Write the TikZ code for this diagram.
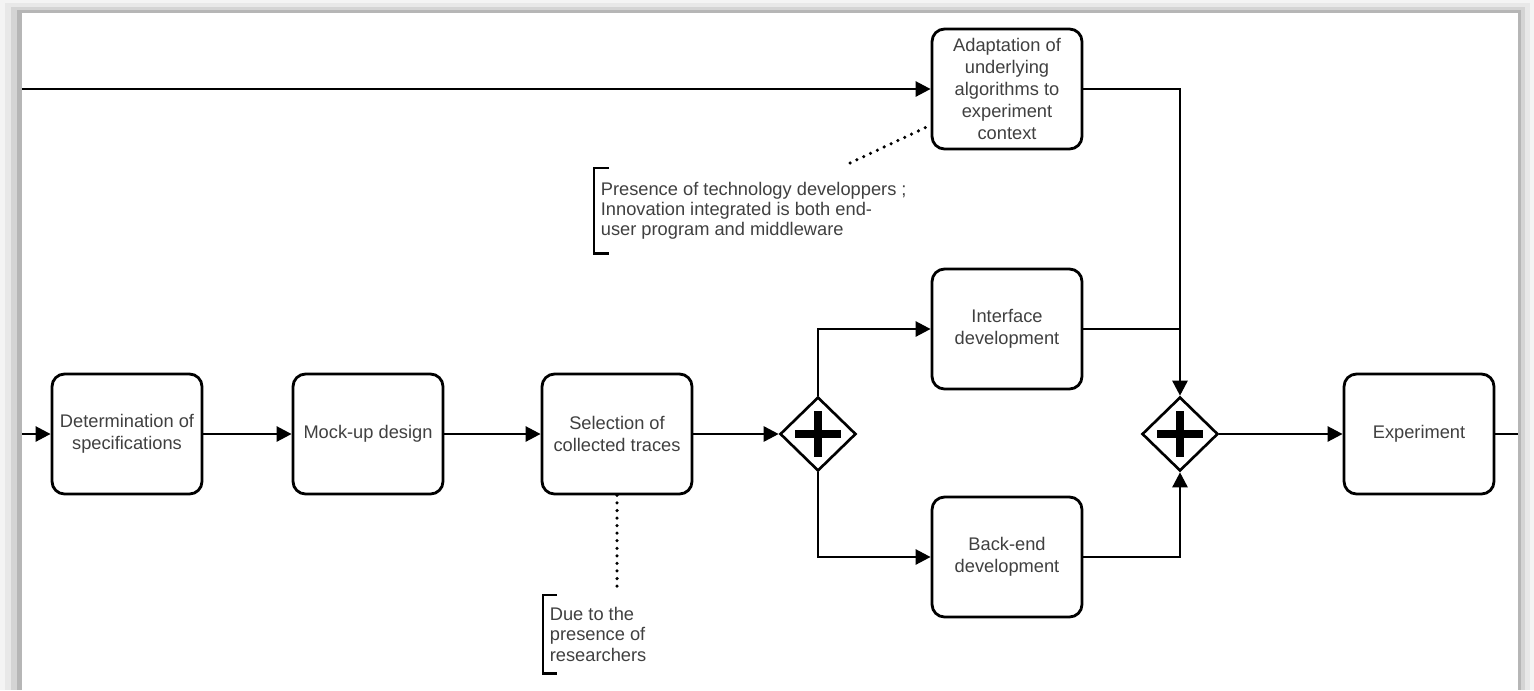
\documentclass[tikz,border=0pt]{standalone}
\usepackage{fontspec}
\setmainfont{Liberation Sans}
\usetikzlibrary{positioning, arrows.meta, shapes.geometric, calc}
\definecolor{flowink}{RGB}{0, 0, 0}
\definecolor{flowtext}{RGB}{64, 64, 64}
\definecolor{shadeA}{RGB}{244, 244, 244}
\definecolor{shadeB}{RGB}{232, 232, 232}
\definecolor{shadeC}{RGB}{212, 212, 212}
\definecolor{shadeD}{RGB}{182, 182, 182}
\tikzset{
  task/.style={
    draw=flowink,
    line width=1.6pt,
    rounded corners=0.25cm,
    fill=white,
    minimum width=3cm,
    minimum height=2.4cm,
    inner sep=2pt,
    align=center,
    text=flowtext,
    font=\fontsize{10.4}{12.4}\selectfont
  },
  gateway/.style={
    diamond,
    aspect=1,
    draw=flowink,
    line width=1.5pt,
    fill=white,
    inner sep=0pt,
    minimum width=1.52cm,
    minimum height=1.48cm,
    path picture={
      \fill[flowink] ([xshift=-0.46cm,yshift=-0.08cm]path picture bounding box.center)
        rectangle ([xshift=0.46cm,yshift=0.08cm]path picture bounding box.center);
      \fill[flowink] ([xshift=-0.08cm,yshift=-0.46cm]path picture bounding box.center)
        rectangle ([xshift=0.08cm,yshift=0.46cm]path picture bounding box.center);
    }
  },
  flow/.style={
    -{Triangle[length=3mm,width=3mm]},
    line width=1.5pt,
    draw=flowink
  },
  plainflow/.style={
    line width=1.5pt,
    draw=flowink
  },
  assoc/.style={
    line width=2pt,
    dash pattern=on 0pt off 4.3pt,
    line cap=round,
    draw=flowink
  },
  note/.style={
    anchor=north west,
    align=left,
    inner xsep=0.13cm,
    inner ysep=0pt,
    text=flowtext,
    font=\fontsize{10.4}{11.6}\selectfont
  },
  bracket/.style={
    line width=1.6pt,
    draw=flowink
  }
}

\begin{document}
\begin{tikzpicture}[x=0.02cm, y=-0.02cm]
  \useasboundingbox (0,0) rectangle (1534,690);

  % window shadow
  \fill[shadeA] (0,0) rectangle (1534,690);
  \fill[shadeB] (5,3) rectangle (1530,690);
  \fill[shadeC] (11,7) rectangle (1525,690);
  \fill[shadeD] (17,10) rectangle (1521,690);
  \fill[white] (22,13) rectangle (1518,690);

  % tasks and gateways
  \node[task] (spec) at (127,434) {Determination of\\specifications};
  \node[task] (mockup) at (368,434) {Mock-up design};
  \node[task] (traces) at (617,434) {Selection of\\collected traces};
  \node[gateway] (forkgw) at (818,434) {};
  \node[task] (adapt) at (1007,89) {Adaptation of\\underlying\\algorithms to\\experiment\\context};
  \node[task] (iface) at (1007,329) {Interface\\development};
  \node[task] (backend) at (1007,557) {Back-end\\development};
  \node[gateway] (joingw) at (1180,434) {};
  \node[task] (experiment) at (1419,434) {Experiment};

  % annotations
  \node[note, minimum height=1.7cm] (noteDev) at (594,168)
    {Presence of technology developpers ;\\Innovation integrated is both end-\\user program and middleware};
  \node[note, minimum height=1.56cm] (noteRes) at (543,595)
    {Due to the\\presence of\\researchers};
  \draw[bracket] ($(noteDev.north west)+(15,0)$) -- (noteDev.north west) -- (noteDev.south west) -- ++(15,0);
  \draw[bracket] ($(noteRes.north west)+(14,0)$) -- (noteRes.north west) -- (noteRes.south west) -- ++(14,0);

  \coordinate (inTop) at (22,89);
  \coordinate (inLeft) at (22,434);
  \coordinate (outRight) at (1518,434);
  \coordinate (devTip) at (850,163);
  \coordinate (devHook) at (931,125);
  \coordinate (resTip) at (617,593);

  % sequence flows
  \draw[flow] (inTop) -- (adapt.west);
  \draw[flow] (inLeft) -- (spec.west);
  \draw[flow] (spec) -- (mockup);
  \draw[flow] (mockup) -- (traces);
  \draw[flow] (traces) -- (forkgw.west);
  \draw[flow] (forkgw.north) |- (iface.west);
  \draw[flow] (forkgw.south) |- (backend.west);
  \draw[flow] (adapt.east) -| (joingw.north);
  \draw[plainflow] (iface.east) -- (iface.east -| joingw.north);
  \draw[flow] (backend.east) -| (joingw.south);
  \draw[flow] (joingw.east) -- (experiment.west);
  \draw[plainflow] (experiment.east) -- (outRight);

  % associations
  \draw[assoc] (devTip) -- (devHook);
  \draw[assoc] (traces.south) -- (resTip);
\end{tikzpicture}
\end{document}
